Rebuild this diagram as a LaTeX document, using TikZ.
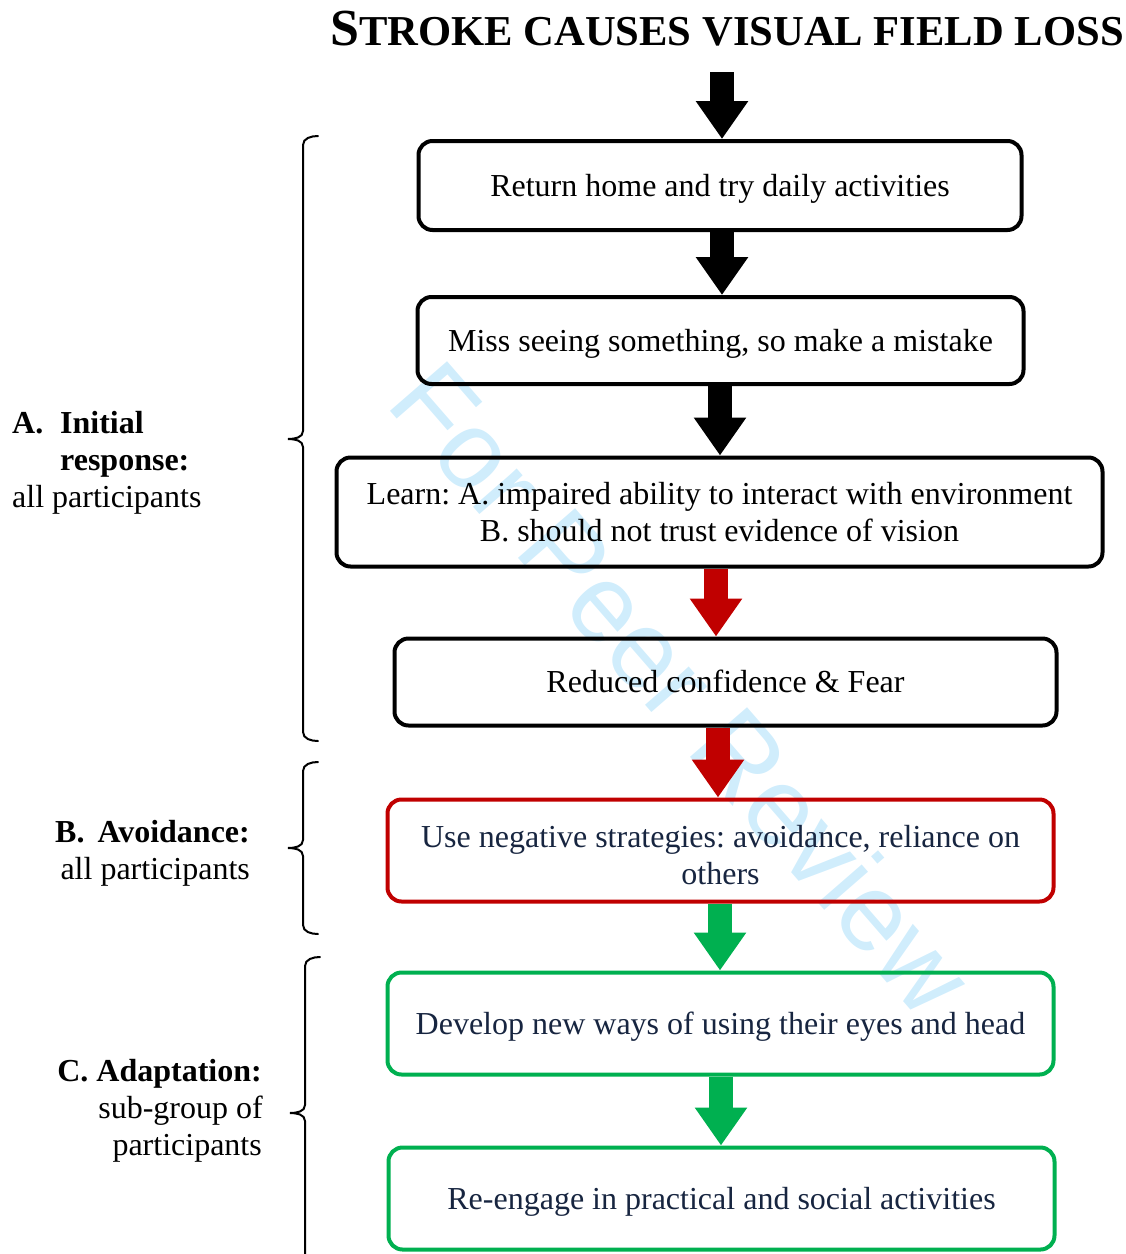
\documentclass[tikz,border=0pt]{standalone}
\usepackage{fontspec}
\setmainfont{Liberation Serif}
\newfontfamily\wmfont{Liberation Sans}
\usetikzlibrary{arrows.meta}
\frenchspacing
\definecolor{myred}{RGB}{192,0,0}
\definecolor{mygreen}{RGB}{0,176,80}
\definecolor{navy}{RGB}{23,37,64}
\definecolor{wmblue}{RGB}{208,237,252}
\tikzset{
  box/.style={draw, line width=4pt, rounded corners=14pt, inner sep=0pt, align=center,
    font=\fontsize{32}{36.5}\selectfont},
  oneline/.style={text height=28pt, text depth=7pt},
  blackbox/.style={box, draw=black, text=black},
  redbox/.style={box, draw=myred, text=navy},
  greenbox/.style={box, draw=mygreen, text=navy},
  barrow/.style={line width=24pt, -{Triangle[width=50pt,length=38pt]}},
  lbl/.style={inner sep=0pt, font=\fontsize{32}{36.5}\selectfont},
  blbl/.style={inner sep=0pt, font=\bfseries\fontsize{32}{36.5}\selectfont},
  brace/.style={line width=2pt, line cap=round},
}
\begin{document}
\begin{tikzpicture}[x=1pt,y=-1pt]
\useasboundingbox (0,0) rectangle (1126,1254);
% watermark
\node[inner sep=0pt, anchor=base west, rotate=-49, text=wmblue, font=\wmfont\fontsize{110}{110}\selectfont] (wm) at (384,404) {For Peer Review};
% title
\node[inner sep=0pt, anchor=base west, font=\bfseries] (title) at (330,45)
  {{\fontsize{52}{52}\selectfont S}{\fontsize{42.6}{42.6}\selectfont TROKE CAUSES VISUAL FIELD LOSS}};
% boxes
\node[blackbox, oneline, minimum width=603pt, minimum height=89pt] (b1) at (720,185.5) {Return home and try daily activities};
\node[blackbox, oneline, minimum width=606pt, minimum height=87pt] (b2) at (720.5,340.5) {Miss seeing something, so make a mistake};
\node[blackbox, minimum width=766pt, minimum height=109pt] (b3) at (719.5,512) {Learn: A. impaired ability to interact with environment\\B. should not trust evidence of vision};
\node[blackbox, oneline, minimum width=662pt, minimum height=87pt] (b4) at (725.5,682) {Reduced confidence \& Fear};
\node[redbox, minimum width=666pt, minimum height=102pt] (b5) at (720.5,850.5) {\rule{0pt}{31pt}Use negative strategies: avoidance, reliance on\\others};
\node[greenbox, oneline, minimum width=666pt, minimum height=102pt] (b6) at (720.5,1023.5) {Develop new ways of using their eyes and head};
\node[greenbox, oneline, minimum width=666pt, minimum height=102pt] (b7) at (721.5,1198.5) {Re-engage in practical and social activities};
% arrows
\coordinate (a0s) at (722,72);
\draw[barrow, black] (a0s) -- (b1.north -| a0s);
\draw[barrow, black] (b1.south -| 722,0) -- (b2.north -| 722,0);
\draw[barrow, black] (b2.south -| 720,0) -- (b3.north -| 720,0);
\draw[barrow, myred] (b3.south -| 716,0) -- (b4.north -| 716,0);
\draw[barrow, myred] (b4.south -| 718,0) -- (b5.north -| 718,0);
\draw[barrow, mygreen] (b5.south -| 720,0) -- (b6.north -| 720,0);
\draw[barrow, mygreen] (b6.south -| 721,0) -- (b7.north -| 721,0);
% braces
\draw[brace] (318,136) to[out=180,in=90] (303,145) -- (303,431) to[out=270,in=0] (288,439) to[out=0,in=90] (303,447) -- (303,732) to[out=270,in=180] (318,741);
\draw[brace] (318,762) to[out=180,in=90] (303,771) -- (303,840) to[out=270,in=0] (288,848) to[out=0,in=90] (303,856) -- (303,925) to[out=270,in=180] (318,934);
\draw[brace] (320,957) to[out=180,in=90] (305,966) -- (305,1105) to[out=270,in=0] (290,1113) to[out=0,in=90] (305,1121) -- (305,1262);
% labels
\node[blbl, anchor=mid west] (la1) at (12,431) {A.};
\node[blbl, anchor=mid west] (la2) at (60,431) {Initial};
\node[blbl, anchor=mid west] (la3) at (60,468) {response:};
\node[lbl, anchor=mid west] (la4) at (12,505) {all participants};
\node[blbl, anchor=mid east] (lb1) at (250,840) {B.\hspace{13pt}Avoidance:};
\node[lbl, anchor=mid east] (lb2) at (250,877) {all participants};
\node[blbl, anchor=mid east] (lc1) at (262,1079) {C. Adaptation:};
\node[lbl, anchor=mid east] (lc2) at (263,1116) {sub-group of};
\node[lbl, anchor=mid east] (lc3) at (262,1153) {participants};
\end{tikzpicture}
\end{document}
